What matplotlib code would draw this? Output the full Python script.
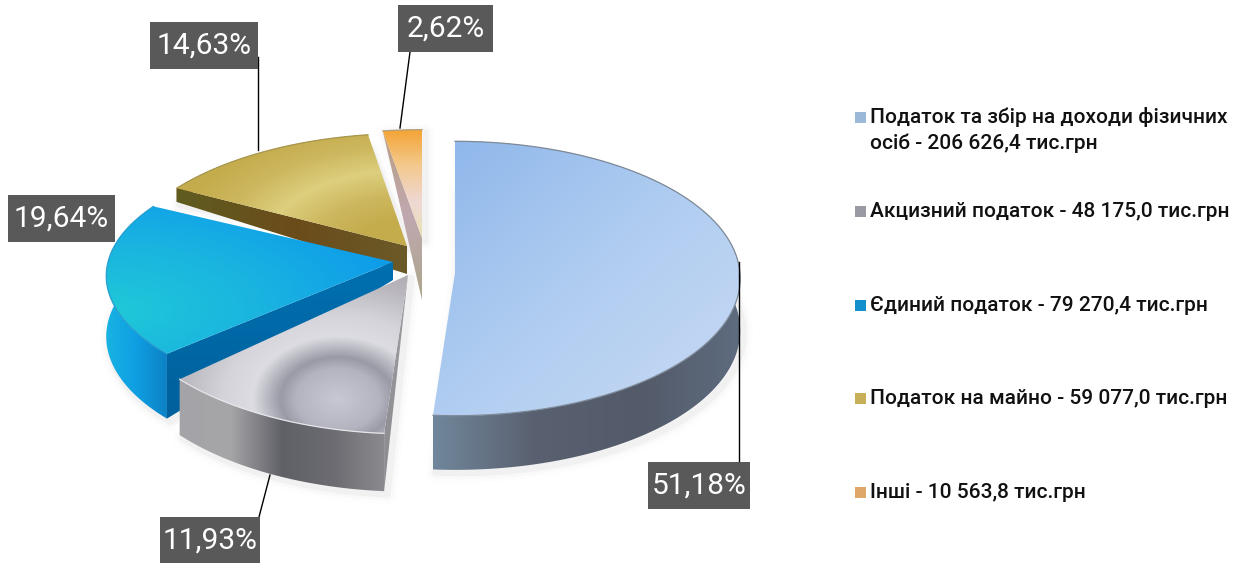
import numpy as np
from matplotlib import pyplot as plt
from matplotlib.colors import LinearSegmentedColormap
from matplotlib.patches import Polygon

categories = ["Податок та збір на доходи фізичних\nосіб", "Акцизний податок", "Єдиний податок", "Податок на майно", "Інші"]
values = [206626.4, 48175.0, 79270.4, 59077.0, 10563.8]
pct_labels = ["51,18%", "11,93%", "19,64%", "14,63%", "2,62%"]
value_labels = ["206 626,4", "48 175,0", "79 270,4", "59 077,0", "10 563,8"]

# pixel layout of the exploded slices: centre x, centre y, R, Ry, perspective, rim depth, apex depth
geom = [
    (455, 273, 285, 137, 0.04, 52, 0),
    (408, 275, 290, 143, 0.10, 52, 0),
    (393, 262, 285, 125, 0.11, 60, 18),
    (407, 246, 285, 135, 0.20, 15, 28),
    (422, 238, 287, 130, 0.20, 0, 62),
]
show_edge = [False, True, True, True, True]

# top face / rim / radial edge colour stops
top_cols = [
    ["#8db6ea", "#b0cdf1", "#c8daf3"],
    [(0, "#c8c8d4"), (0.22, "#b4b4c0"), (0.3, "#9a9aa6"), (0.45, "#dcdce2"), (0.6, "#d4d4da"), (0.85, "#b8b6bc"), (1, "#aeacb2")],
    ["#1fc8d8", "#1ab4e0", "#0e9cea"],
    ["#dccf7e", "#cdb75e", "#c4ac4c"],
    ["#f5a12e", "#f3c98c", "#efd8d4", "#e8e2b0"],
]
rim_cols = [
    ["#71879c", "#59606f", "#535a69", "#5e6c7f"],
    ["#a4a4a8", "#a6a6a8", "#606068", "#6c6c72", "#8c8c90"],
    ["#18b4e2", "#0f9ee2", "#0d80c4"],
    ["#6a4f1c", "#6a4f1c"],
    ["#b89a78", "#b89a78"],
]
edge_cols = [
    ["#5e6c7f", "#5e6c7f"],
    ["#a0a0a4", "#8a8a8e"],
    ["#0070b0", "#00609c"],
    ["#5f5c20", "#6b4c1a", "#6a5a28"],
    ["#b89e80", "#c0a8b0", "#aca68a"],
]
line_cols = ["#7f8a99", "#e6e6ea", "#2aa0d0", "#a8974f", "#b0a080"]
marker_cols = ["#9cb8d8", "#9a9aa2", "#1290cc", "#c8b058", "#e0a868"]

# label box (left, top, right, bottom) in pixels, leader line as x/y pairs
boxes = [(648, 462, 750, 509), (160, 517, 260, 563), (8, 195, 115, 242), (150, 22, 258, 69), (398, 5, 493, 52)]
leaders = [([739, 739], [262, 462]), ([270, 259], [475, 517]), None, ([258, 258], [57, 150]), ([410, 400], [52, 128])]
legend_y = [123, 217, 311, 404, 498]

fig = plt.figure(figsize=(12.46, 5.63), dpi=100)
ax = fig.add_axes([0, 0, 1, 1])

num = 200

def project(g, theta):
    cx, cy, R, Ry, k = g[:5]
    yn = -np.cos(theta)
    s = 1 / (1 - k * yn)
    return cx + R * np.sin(theta) * s, cy + Ry * yn * s, s

def fill(poly, cols, mode, z):
    # gradient image clipped by the polygon
    poly = np.array(poly)
    x0, y0 = poly.min(axis=0) - 2
    x1, y1 = poly.max(axis=0) + 2
    xx, yy = np.meshgrid(np.linspace(x0, x1, 200), np.linspace(y0, y1, 200))
    if callable(mode):
        t = mode(xx, yy)
    elif mode == "x":
        t = (xx - x0) / (x1 - x0)
    elif mode == "y":
        t = (yy - y0) / (y1 - y0)
    else:
        t = ((xx - x0) / (x1 - x0) + (yy - y0) / (y1 - y0)) / 2
    cmap = LinearSegmentedColormap.from_list("c", cols)
    im = ax.imshow(t, cmap=cmap, vmin=0, vmax=1, extent=(x0, x1, y1, y0), zorder=z, aspect="auto", interpolation="bilinear")
    patch = Polygon(poly, closed=True, transform=ax.transData, fc="none", ec="none")
    ax.add_patch(patch)
    im.set_clip_path(patch)

def grey_rings(xx, yy):
    # ring-shaped shine on the grey slice
    r = np.hypot((xx - 337) / 1.35, yy - 400)
    return np.clip(r / 140, 0, 1)

def blue_glow(xx, yy):
    return np.clip(np.hypot((xx - 115) / 290, (yy - 310) / 130), 0, 1)

def gold_band(xx, yy):
    r = np.hypot((xx - 407) / 1.9, yy - 246)
    return np.clip(np.abs(r - 75) / 50, 0, 1)

top_modes = ["d", grey_rings, blue_glow, gold_band, "y"]

fracs = np.array(values) / np.sum(values)
ends = np.cumsum(fracs) * 2 * np.pi
starts = ends - fracs * 2 * np.pi

# faint soft shadow under the slices
for i, g in enumerate(geom):
    th = np.linspace(starts[i], ends[i], num)
    px, py, s = project(g, th)
    outline = np.column_stack([np.r_[g[0], px], np.r_[g[1], py + g[5] * s]])
    for lw, a in [(14, 0.012), (9, 0.025), (5, 0.05)]:
        ax.add_patch(Polygon(outline + [3, 3], closed=True, fc="none", ec="#606060", lw=lw, alpha=a, zorder=1, joinstyle="round"))

for i in [4, 0, 3, 2, 1]:
    g = geom[i]
    z = 2 + [4, 0, 3, 2, 1].index(i)
    th = np.linspace(starts[i], ends[i], num)
    px, py, s = project(g, th)
    d_rim, d_apex = g[5], g[6]
    top = np.column_stack([np.r_[g[0], px], np.r_[g[1], py]])
    # outer rim
    if d_rim > 0:
        rim = np.column_stack([np.r_[px, px[::-1]], np.r_[py, (py + d_rim * s)[::-1]]])
        fill(rim, rim_cols[i], "x", z)
    # radial side
    if show_edge[i]:
        side = [(g[0], g[1]), (px[0], py[0]), (px[0], py[0] + d_rim * s[0]), (g[0], g[1] + d_apex)]
        fill(side, edge_cols[i], "x" if i == 3 else "y", z + 0.1)
    fill(top, top_cols[i], top_modes[i], z + 0.2)
    ax.plot(top[1:, 0], top[1:, 1], color=line_cols[i], lw=0.9, zorder=z + 0.3)

for i in range(len(values)):
    l, t, r, b = boxes[i]
    ax.add_patch(plt.Rectangle((l, t), r - l, b - t, fc="#595959", ec="none", zorder=20))
    ax.text((l + r) / 2, (t + b) / 2 + 0.5, pct_labels[i], color="white", ha="center", va="center", fontsize=21.5,
            family="Roboto", zorder=21)
    if leaders[i] is not None:
        ax.plot(leaders[i][0], leaders[i][1], color="black", lw=1, zorder=19)
    # legend entries
    ax.add_patch(plt.Rectangle((855, legend_y[i] - 11), 11, 11, fc=marker_cols[i], ec="none"))
    ax.text(870, legend_y[i], categories[i].split("\n")[0] if i == 0 else "%s - %s тис.грн" % (categories[i], value_labels[i]),
            fontsize=15, family="Roboto", weight="medium", color="#111111", va="baseline")

ax.text(870, 149, "%s - %s тис.грн" % (categories[0].split("\n")[1], value_labels[0]), fontsize=15, family="Roboto",
        weight="medium", color="#111111", va="baseline")

ax.set_xlim(0, 1246)
ax.set_ylim(563, 0)
ax.axis("off")
fig.savefig("out.png", dpi=100)
